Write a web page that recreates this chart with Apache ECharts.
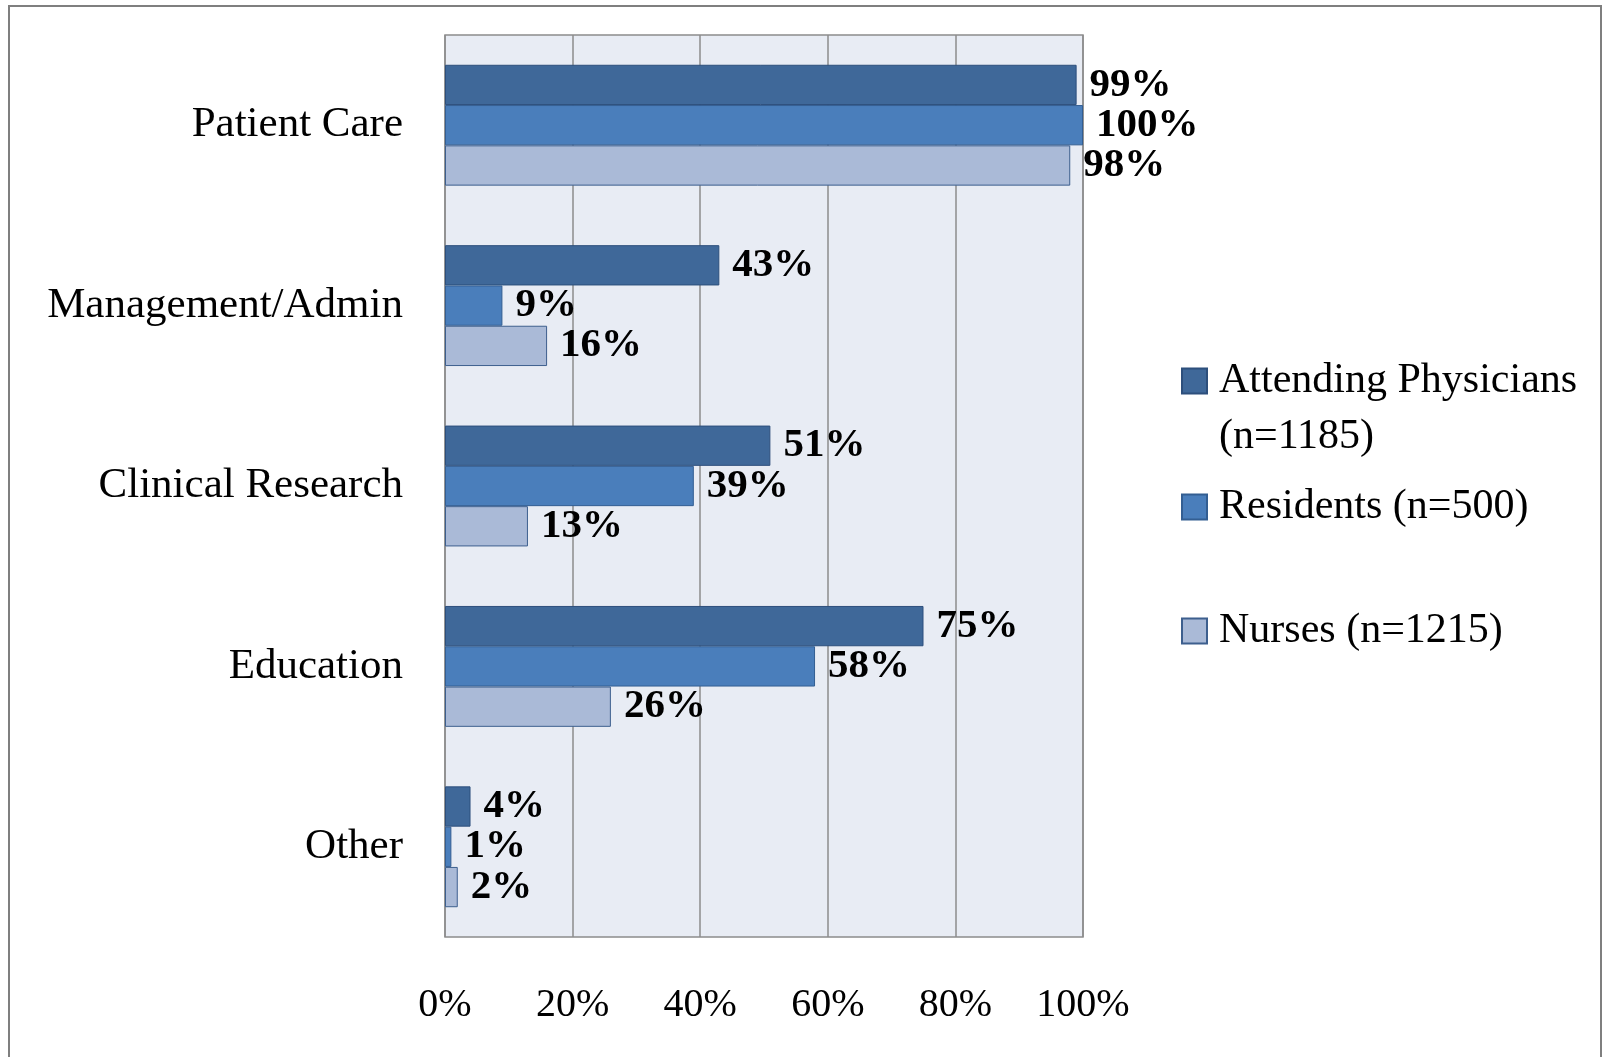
<!DOCTYPE html>
<html>
<head>
<meta charset="utf-8">
<script src="https://cdn.jsdelivr.net/npm/echarts@6/dist/echarts.min.js"></script>
<style>
  html, body { margin: 0; padding: 0; background: #fff; }
  #chart { width: 1602px; height: 1057px; }
</style>
</head>
<body>
<div id="chart"></div>
<script>
const categories = ['Patient Care', 'Management/Admin', 'Clinical Research', 'Education', 'Other'];
const attending = [99, 43, 51, 75, 4];
const residents = [100, 9, 39, 58, 1];
const nurses = [98, 16, 13, 26, 2];
const seriesNames = ['Attending Physicians\n(n=1185)', 'Residents (n=500)', 'Nurses (n=1215)'];
const xTicks = [0, 20, 40, 60, 80, 100];

const font = 'Liberation Serif';
const colors = ['#3F6899', '#4A7EBB', '#AABAD7'];
const borders = ['#2D4F7C', '#335E92', '#3D5F8E'];

const chart = echarts.init(document.getElementById('chart'));

function barSeries(name, data, i) {
  return {
    name: name,
    type: 'bar',
    data: data,
    barGap: '0%',
    barCategoryGap: '33%',
    itemStyle: { color: colors[i], borderColor: borders[i], borderWidth: 1 },
    label: {
      show: true,
      position: 'right',
      distance: 13,
      formatter: '{c}%',
      fontFamily: font,
      fontWeight: 'bold',
      fontSize: 41,
      color: '#000'
    }
  };
}

// legend item centres: 381, 507, 631
const legendTops = [297, 479, 603];

const option = {
  animation: false,
  backgroundColor: '#fff',
  textStyle: { fontFamily: font },
  graphic: [{
    type: 'rect',
    shape: { x: 9, y: 6, width: 1592, height: 1060 },
    style: { fill: 'none', stroke: '#7f7f7f', lineWidth: 2 }
  }],
  legend: seriesNames.map((n, i) => ({
    data: [n],
    left: 1181,
    top: legendTops[i],
    padding: 0,
    itemWidth: 25,
    itemHeight: 25,
    itemGap: 0,
    icon: 'rect',
    selectedMode: false,
    // blank first line so the icon sits on the first text line
    formatter: i === 0 ? (name => '\n' + name) : undefined,
    textStyle: {
      fontFamily: font,
      fontSize: 42,
      color: '#000',
      lineHeight: 56,
      padding: [0, 0, 0, 7]
    }
  })),
  grid: {
    left: 445,
    top: 35,
    width: 638,
    height: 902,
    show: true,
    backgroundColor: '#E8ECF4',
    borderColor: '#8C8C8C',
    borderWidth: 1.5
  },
  xAxis: {
    type: 'value',
    min: xTicks[0],
    max: xTicks[xTicks.length - 1],
    interval: 20,
    axisLine: { show: false },
    axisTick: { show: false },
    splitLine: { lineStyle: { color: '#8C8C8C', width: 1.5 } },
    axisLabel: {
      formatter: '{value}%',
      margin: 48,
      fontFamily: font,
      fontSize: 40,
      color: '#000'
    }
  },
  yAxis: {
    type: 'category',
    data: categories,
    inverse: true,
    axisLine: { show: false },
    axisTick: { show: false },
    axisLabel: {
      margin: 42,
      fontFamily: font,
      fontSize: 43,
      color: '#000'
    }
  },
  series: [
    barSeries(seriesNames[0], attending, 0),
    barSeries(seriesNames[1], residents, 1),
    barSeries(seriesNames[2], nurses, 2)
  ]
};

chart.setOption(option);
</script>
</body>
</html>
